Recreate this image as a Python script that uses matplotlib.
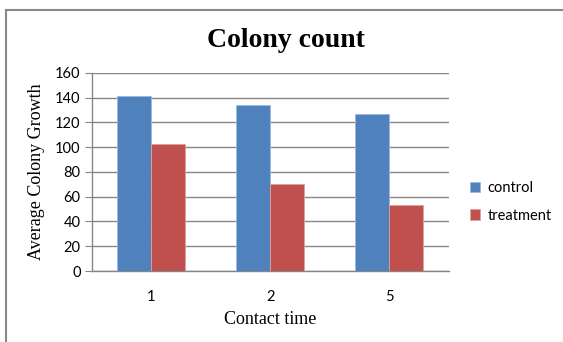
"""Colony count bar chart."""
import matplotlib

matplotlib.use("Agg")
import matplotlib.pyplot as plt
import numpy as np
from matplotlib.lines import Line2D

# data
contact_times = ["1", "2", "5"]
control = [141, 134, 126.5]
treatment = [102.5, 70.5, 53.5]
y_ticks = [0, 20, 40, 60, 80, 100, 120, 140, 160]

blue = "#4F81BD"
red = "#C0504D"
grid_gray = "#868686"
serif = ["Liberation Serif", "DejaVu Serif"]
sans = ["Lato", "DejaVu Sans"]

fig = plt.figure(figsize=(5.63, 3.42), dpi=100)
ax = fig.add_axes([0.163, 0.2076, 0.634, 0.579])

x = np.arange(len(contact_times))
bar_width = 0.285
ax.bar(x - bar_width / 2, control, bar_width, color=blue, edgecolor="#9DB9E0",
       linewidth=0.6, label="control", zorder=3)
ax.bar(x + bar_width / 2, treatment, bar_width, color=red, edgecolor="#E0A09E",
       linewidth=0.6, label="treatment", zorder=3)

ax.set_xlim(-0.5, len(contact_times) - 0.5)
ax.set_ylim(0, 160)
ax.set_yticks(y_ticks)
ax.set_xticks(x)
ax.set_xticklabels(contact_times, fontsize=10.5, family=sans)
ax.set_yticklabels([str(v) for v in y_ticks], fontsize=10.5, family=sans)
ax.tick_params(axis="x", length=0, pad=14)
ax.tick_params(axis="y", length=5, color=grid_gray, pad=3)

ax.grid(axis="y", color=grid_gray, linewidth=1, zorder=0)
for side in ["top", "right"]:
    ax.spines[side].set_visible(False)
for side in ["left", "bottom"]:
    ax.spines[side].set_color(grid_gray)
    ax.spines[side].set_linewidth(1)

ax.set_xlabel("Contact time", family=serif, fontsize=13, labelpad=5)
ax.set_ylabel("Average Colony Growth", family=serif, fontsize=13, labelpad=7)

fig.text(0.508, 0.883, "Colony count", family=serif, fontsize=20,
         fontweight="bold", ha="center", va="center")

ax.legend(loc="center left", bbox_to_anchor=(0.835, 0.41),
          bbox_transform=fig.transFigure, frameon=False, borderpad=0,
          borderaxespad=0, prop={"family": sans, "size": 10.5},
          handlelength=0.7, handleheight=0.7, handletextpad=0.5,
          labelspacing=0.95)

# chart border (top and left edge only visible)
fig.add_artist(Line2D([0.0115, 1.0], [0.972, 0.972], color="#888888", linewidth=1.5))
fig.add_artist(Line2D([0.0115, 0.0115], [0.0, 0.972], color="#888888", linewidth=1.5))

fig.savefig("out.png", dpi=100, facecolor="white")
